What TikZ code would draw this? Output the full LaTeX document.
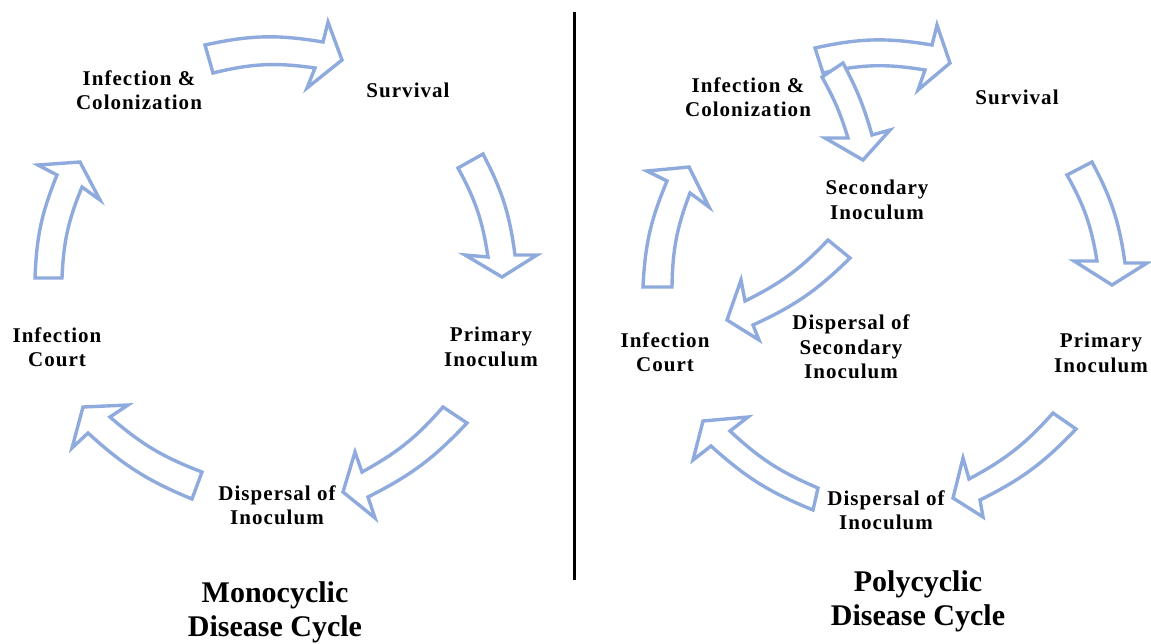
\documentclass[tikz,border=0pt]{standalone}
\usepackage{fontspec}
\setmainfont{Liberation Serif}
\newfontfamily\lblfont[LetterSpace=5]{Liberation Serif}
\begin{document}
\begin{tikzpicture}[x=1pt,y=-1pt,
  blk/.style={draw=blockblue,line width=3.4pt,fill=white,line join=miter},
  lbl/.style={font=\lblfont\bfseries\fontsize{21}{24.5}\selectfont,align=center,inner sep=0pt},
  ttl/.style={font=\bfseries\fontsize{30}{34}\selectfont,align=center,inner sep=0pt}]
\definecolor{blockblue}{HTML}{8FAADC}
\useasboundingbox (0,0) rectangle (1151,643);
% ---------------- left cycle arrows
\draw[blk] (205,45) to[bend left=11] (323,42) -- (328,22) -- (342,60) -- (307,88) -- (315,68) to[bend right=11] (213,73) -- cycle;
\draw[blk] (458,168) -- (483,154) to[bend left=10] (515,255) -- (537,255) -- (502,277) -- (465,255) -- (488,257) to[bend right=10] cycle;
\draw[blk] (443,407) -- (467,423) to[bend left=10] (368,497) -- (375,518) -- (343,492) -- (355,452) -- (362,472) to[bend right=10] cycle;
\draw[blk] (192,499) to[bend left=10] (88,433) -- (72,448) -- (83,407) -- (128,405) -- (110,417) to[bend right=10] (202,472) -- cycle;
\draw[blk] (35,278) to[bend left=10] (57,175) -- (38,165) -- (80,162) -- (100,200) -- (82,187) to[bend right=10] (62,278) -- cycle;
% ---------------- right cycle arrows
\draw[blk] (815,48) to[bend left=11] (932,45) -- (937,25) -- (950,63) -- (918,90) -- (925,70) to[bend right=11] (823,73) -- cycle;
\draw[blk] (822,77) -- (843,63) to[bend left=6] (872,135) -- (890,130) -- (863,160) -- (825,138) -- (848,138) to[bend right=6] cycle;
\draw[blk] (828,240) -- (850,258) to[bend left=10] (753,325) -- (759,340) -- (727,320) -- (741,280) -- (745,301) to[bend right=10] cycle;
\draw[blk] (1067,175) -- (1092,162) to[bend left=10] (1125,263) -- (1147,263) -- (1112,285) -- (1074,261) -- (1097,261) to[bend right=10] cycle;
\draw[blk] (1053,413) -- (1076,429) to[bend left=10] (980,500) -- (983,517) -- (953,498) -- (963,458) -- (969,479) to[bend right=10] cycle;
\draw[blk] (813,510) to[bend left=10] (711,446) -- (693,460) -- (703,421) -- (748,417) -- (730,431) to[bend right=10] (818,488) -- cycle;
\draw[blk] (643,287) to[bend left=10] (667,181) -- (647,171) -- (689,167) -- (709,207) -- (690,193) to[bend right=10] (672,287) -- cycle;
% ---------------- divider
\coordinate (divtop) at (574,12);
\coordinate (divbot) at (574,580);
\draw[line width=3pt] (divtop) -- (divbot);
% ---------------- left labels
\node[lbl] (lic) at (139,90) {Infection \&\\Colonization};
\node[lbl] (lsu) at (408,90) {Survival};
\node[lbl] (lpi) at (491,347) {Primary\\Inoculum};
\node[lbl] (ldi) at (277,505) {Dispersal of\\Inoculum};
\node[lbl] (lco) at (57,347) {Infection\\Court};
\node[ttl] (lt) at (275,612) {Monocyclic\\Disease Cycle};
% ---------------- right labels
\node[lbl] (ric) at (748,97) {Infection \&\\Colonization};
\node[lbl] (rsu) at (1017,97) {Survival};
\node[lbl] (rsi) at (877,200) {Secondary\\Inoculum};
\node[lbl] (rds) at (851,347) {Dispersal of\\Secondary\\Inoculum};
\node[lbl] (rco) at (665,352) {Infection\\Court};
\node[lbl] (rpi) at (1101,353) {Primary\\Inoculum};
\node[lbl] (rdi) at (886,510) {Dispersal of\\Inoculum};
\node[ttl] (rt) at (918,601) {Polycyclic\\Disease Cycle};
\end{tikzpicture}
\end{document}
